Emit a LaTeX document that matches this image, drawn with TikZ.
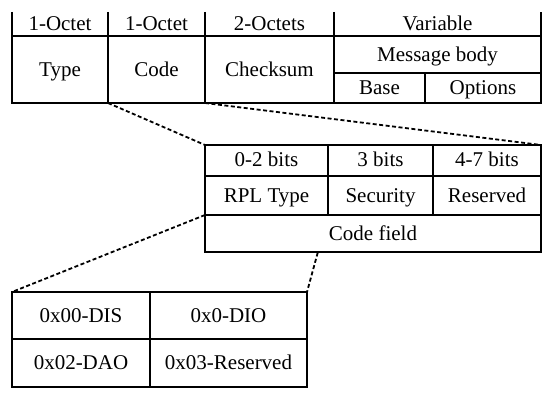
\documentclass[tikz,border=0pt]{standalone}
\usepackage{fontspec}
\setmainfont{Liberation Serif}
\begin{document}
\begin{tikzpicture}[x=1pt,y=-1pt,line width=1.7pt,
  lbl/.style={font=\fontsize{21}{25}\selectfont,inner sep=0pt,text height=13.5pt,text depth=0pt},
  zoomline/.style={line width=1.8pt,dash pattern=on 4pt off 2.5pt}]
\useasboundingbox (0,0) rectangle (550,395);
\coordinate (codeSW) at (108,103);
\coordinate (codeSE) at (205,103);
\coordinate (fieldNW) at (205,145);
\coordinate (fieldNE) at (541,145);
\coordinate (rplSW) at (205,215);
\coordinate (rplSE) at (328,215);
\coordinate (typesNW) at (12,292);
\coordinate (typesNE) at (307,292);
% zoom lines
\draw[zoomline] (codeSW)--(fieldNW);
\draw[zoomline] (codeSE)--(fieldNE);
\draw[zoomline] (rplSW)--(typesNW);
\draw[zoomline] (rplSE)--(typesNE);
% ICMPv6 message
\draw (12,12)--(12,103)--(541,103)--(541,12);
\draw (108,12)--(108,103) (205,12)--(205,103) (334,12)--(334,103);
\draw (12,36)--(541,36) (334,73)--(541,73) (425,73)--(425,103);
\node[lbl] (oct1) at (60,24) {1-Octet};
\node[lbl] (oct2) at (156.5,24) {1-Octet};
\node[lbl] (oct3) at (269.5,24) {2-Octets};
\node[lbl] (var) at (437.5,24) {Variable};
\node[lbl] (type) at (60,70) {Type};
\node[lbl] (code) at (156.5,70) {Code};
\node[lbl] (csum) at (269.5,70) {Checksum};
\node[lbl] (body) at (437.5,55) {Message body};
\node[lbl] (base) at (379.5,88) {Base};
\node[lbl] (opts) at (483,88) {Options};
% code field
\filldraw[fill=white] (205,145) rectangle (541,252);
\draw (205,176)--(541,176) (205,215)--(541,215);
\draw (328,145)--(328,215) (433,145)--(433,215);
\node[lbl] (bits1) at (266.5,160) {0-2 bits};
\node[lbl] (bits2) at (380.5,160) {3 bits};
\node[lbl] (bits3) at (487,160) {4-7 bits};
\node[lbl] (rpl) at (266.5,196) {RPL Type};
\node[lbl] (sec) at (380.5,196) {Security};
\node[lbl] (resv) at (487,196) {Reserved};
\node[lbl] (cfield) at (373,234) {Code field};
% RPL types
\draw (12,292) rectangle (307,387);
\draw (12,339)--(307,339) (150,292)--(150,387);
\node[lbl] (dis) at (81,316) {0x00-DIS};
\node[lbl] (dio) at (228.5,316) {0x0-DIO};
\node[lbl] (dao) at (81,363) {0x02-DAO};
\node[lbl] (rsv) at (228.5,363) {0x03-Reserved};
\end{tikzpicture}
\end{document}
